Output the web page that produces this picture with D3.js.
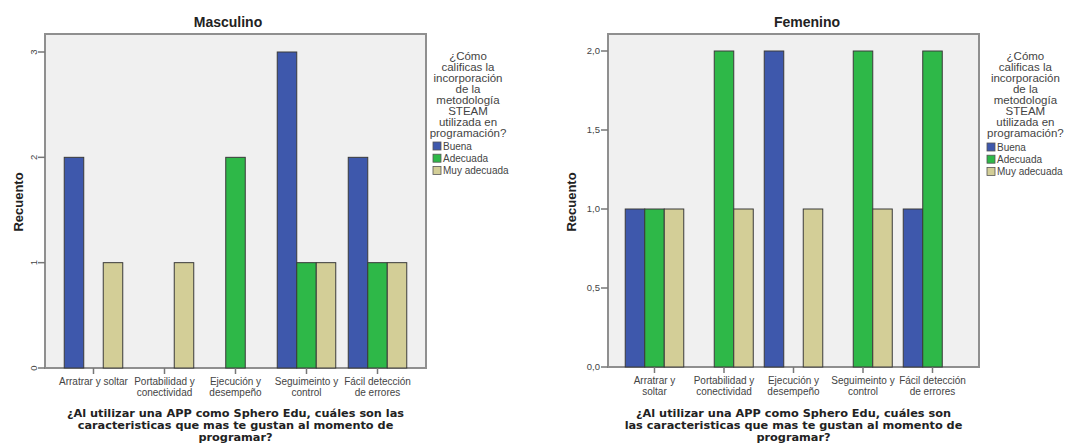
<!DOCTYPE html>
<html><head><meta charset="utf-8">
<script src="https://cdn.jsdelivr.net/npm/d3@7"></script>
<style>body{margin:0;background:#fff}svg{display:block}text{font-family:"Liberation Sans",Arial,sans-serif}</style>
</head><body>
<svg id="c" width="1065" height="444"></svg>
<script>
const categories = ["Arratrar y soltar","Portabilidad y conectividad","Ejecución y desempeño","Seguimeinto y control","Fácil detección de errores"];
const seriesNames = ["Buena","Adecuada","Muy adecuada"];
const mascBuena = [2,0,0,3,2];
const mascAdecuada = [0,0,2,1,1];
const mascMuyAdecuada = [1,1,0,1,1];
const femBuena = [1,0,2,0,1];
const femAdecuada = [1,2,0,2,2];
const femMuyAdecuada = [1,1,1,1,0];
const mascTickLabels = [["Arratrar y soltar"],["Portabilidad y","conectividad"],["Ejecución y","desempeño"],["Seguimeinto y","control"],["Fácil detección","de errores"]];
const femTickLabels = [["Arratrar y","soltar"],["Portabilidad y","conectividad"],["Ejecución y","desempeño"],["Seguimeinto y","control"],["Fácil detección","de errores"]];
const mascYTicks = [0,1,2,3];
const femYTicks = [0,0.5,1,1.5,2];
const legendTitle = ["¿Cómo","calificas la","incorporación","de la","metodología","STEAM","utilizada en","programación?"];
const mascXTitle = ["¿Al utilizar una APP como Sphero Edu, cuáles son las","caracteristicas que mas te gustan al momento de","programar?"];
const femXTitle = ["¿Al utilizar una APP como Sphero Edu, cuáles son","las caracteristicas que mas te gustan al momento de","programar?"];
const colors = ["#3E58AC","#2EB848","#D3CE97"];

const svg = d3.select("#c");

function panel(o){
  const g = svg.append("g");
  const y = d3.scaleLinear().domain([0,o.ymax]).range([o.bottom,o.ytop]);
  const x = d3.scaleBand().domain(categories).range([o.left,o.right]).paddingInner(o.pi).paddingOuter(o.po);
  const x1 = d3.scaleBand().domain(seriesNames).range([0,x.bandwidth()]);
  g.append("rect").attr("x",o.left).attr("y",o.top).attr("width",o.right-o.left).attr("height",o.bottom-o.top)
    .attr("fill","#F0F0F0").attr("stroke","#8f8f8f").attr("stroke-width",2);
  const series = o.series;
  categories.forEach((c,i)=>{
    seriesNames.forEach((s,j)=>{
      const v = series[j][i];
      if(!v) return;
      g.append("rect").attr("x",x(c)+x1(s)).attr("y",y(v)).attr("width",x1.bandwidth()).attr("height",y(0)-y(v))
        .attr("fill",colors[j]).attr("stroke","#3a3a3a").attr("stroke-width",1);
    });
  });
  o.yticks.forEach(t=>{
    g.append("line").attr("x1",o.left-7).attr("x2",o.left).attr("y1",y(t)).attr("y2",y(t)).attr("stroke","#777").attr("stroke-width",1.5);
    const lab = o.fmt(t);
    if(o.rotTicks){
      g.append("text").attr("transform",`translate(${o.left-8},${y(t)}) rotate(-90)`).attr("text-anchor","middle")
        .attr("font-size",9.5).attr("fill","#444").text(lab);
    } else {
      g.append("text").attr("x",o.left-8).attr("y",y(t)+3.2).attr("text-anchor","end").attr("font-size",9.5).attr("fill","#444").text(lab);
    }
  });
  categories.forEach((c,i)=>{
    const cx = x(c)+x.bandwidth()/2;
    g.append("line").attr("x1",cx).attr("x2",cx).attr("y1",o.bottom).attr("y2",o.bottom+6).attr("stroke","#777").attr("stroke-width",1.5);
    o.tickLabels[i].forEach((l,k)=>{
      g.append("text").attr("x",cx).attr("y",o.bottom+17+k*10.5).attr("text-anchor","middle").attr("font-size",10).attr("fill","#444").text(l);
    });
  });
  g.append("text").attr("x",o.titleX).attr("y",27).attr("text-anchor","middle").attr("font-size",14).attr("font-weight","bold").attr("fill","#222").text(o.title);
  g.append("text").attr("transform",`translate(${o.yTitleX},${202}) rotate(-90)`).attr("text-anchor","middle").attr("font-size",13).attr("font-weight","bold").attr("fill","#222").text("Recuento");
  const cx = (o.left+o.right)/2;
  o.xTitle.forEach((l,k)=>{
    g.append("text").attr("x",cx).attr("y",416.5+k*12.4).attr("text-anchor","middle")
      .style("font-family","'DejaVu Sans',sans-serif").attr("font-size",11.3).attr("font-weight","bold").attr("fill","#222").text(l);
  });
  legendTitle.forEach((l,k)=>{
    g.append("text").attr("x",o.legX).attr("y",59.5+k*11.07).attr("text-anchor","middle").attr("font-size",11.5).attr("fill","#444").text(l);
  });
  seriesNames.forEach((s,j)=>{
    const ly = o.legY + j*12.2;
    g.append("rect").attr("x",o.swX).attr("y",ly).attr("width",8).attr("height",8).attr("fill",colors[j]).attr("stroke","#555").attr("stroke-width",0.8);
    g.append("text").attr("x",o.swX+10).attr("y",ly+7.5).attr("font-size",10).attr("fill","#444").text(s);
  });
}

panel({left:45,right:426,top:34,bottom:368,ytop:52,ymax:3,pi:0.176,po:0.271,
  series:[mascBuena,mascAdecuada,mascMuyAdecuada],yticks:mascYTicks,fmt:d=>String(d),rotTicks:true,
  tickLabels:mascTickLabels,title:"Masculino",titleX:228,yTitleX:23,xTitle:mascXTitle,
  legX:468,swX:433,legY:142});
panel({left:608,right:979,top:34,bottom:367,ytop:51,ymax:2,pi:0.158,po:0.248,
  series:[femBuena,femAdecuada,femMuyAdecuada],yticks:femYTicks,fmt:d=>d.toFixed(1).replace(".",","),rotTicks:false,
  tickLabels:femTickLabels,title:"Femenino",titleX:807,yTitleX:576,xTitle:femXTitle,
  legX:1025.4,swX:987,legY:143});
</script>
</body></html>
